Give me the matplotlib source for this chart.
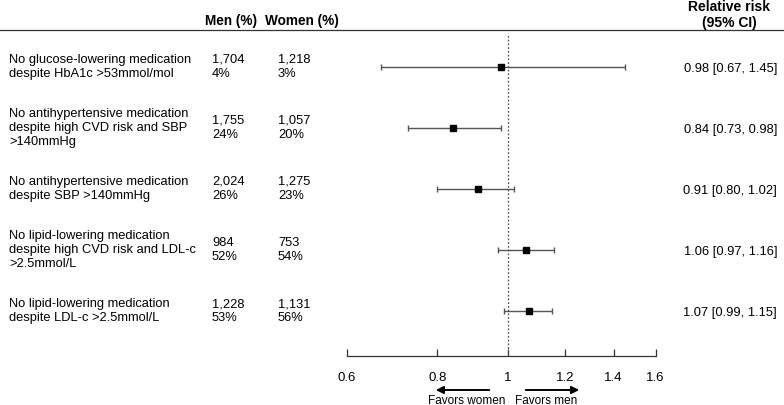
import numpy as np
import matplotlib
matplotlib.use("Agg")
import matplotlib.pyplot as plt

plt.rcParams['font.family'] = ['Liberation Sans', 'DejaVu Sans']

labels = ["No glucose-lowering medication\ndespite HbA1c >53mmol/mol",
          "No antihypertensive medication\ndespite high CVD risk and SBP\n>140mmHg",
          "No antihypertensive medication\ndespite SBP >140mmHg",
          "No lipid-lowering medication\ndespite high CVD risk and LDL-c\n>2.5mmol/L",
          "No lipid-lowering medication\ndespite LDL-c >2.5mmol/L"]
men_n = ["1,704", "1,755", "2,024", "984", "1,228"]
men_pct = ["4%", "24%", "26%", "52%", "53%"]
women_n = ["1,218", "1,057", "1,275", "753", "1,131"]
women_pct = ["3%", "20%", "23%", "54%", "56%"]
rr = np.array([0.98, 0.84, 0.91, 1.06, 1.07])
lo = np.array([0.67, 0.73, 0.80, 0.97, 0.99])
hi = np.array([1.45, 0.98, 1.02, 1.16, 1.15])
ticks = [0.6, 0.8, 1, 1.2, 1.4, 1.6]
tick_labels = ["0.6", "0.8", "1", "1.2", "1.4", "1.6"]

W, H = 784, 406
fig = plt.figure(figsize=(W/100, H/100), dpi=100)
fs = 9.3

def fx(px):
    return px / W

def fy(py):
    return 1 - py / H

# forest panel, placed by pixel edges
left, right, top, bottom = 346.7, 655.7, 35, 357
ax = fig.add_axes([fx(left), fy(bottom), fx(right - left), (bottom - top) / H])
ax.set_xscale('log')
ax.set_xlim(0.6, 1.6)
row0, step = 67.7, 61.1
ax.set_ylim((bottom - row0) / step, (top - row0) / step)

y = np.arange(len(rr))
ax.errorbar(rr, y, xerr=[rr - lo, hi - rr], fmt='none', ecolor='#555555',
            elinewidth=1, capsize=2, capthick=1)
ax.plot(rr, y, 's', color='black', markersize=4.6)
ax.axvline(1, color='#555555', lw=0.9, ls=(0, (1.5, 1.5)))

for s in ['top', 'right', 'left']:
    ax.spines[s].set_visible(False)
ax.spines['bottom'].set_color('#333333')
ax.spines['bottom'].set_linewidth(0.9)
ax.set_yticks([])
ax.set_xticks(ticks)
ax.set_xticklabels(tick_labels)
ax.xaxis.set_minor_locator(matplotlib.ticker.NullLocator())
ax.tick_params(axis='x', direction='in', length=5, width=0.9, color='#333333',
               pad=11, labelsize=9.5)

# header
fig.add_artist(plt.Line2D([0, 1], [fy(31), fy(31)], color='#333333', lw=0.9))
fig.text(fx(205), fy(21), "Men (%)", fontsize=9.8, fontweight='bold', va='center')
fig.text(fx(265), fy(21), "Women (%)", fontsize=9.8, fontweight='bold', va='center')
fig.text(fx(729), fy(15), "Relative risk\n(95% CI)", fontsize=10, fontweight='bold',
         ha='center', va='center', linespacing=1.1)

for i in range(len(rr)):
    py = row0 + step * i
    fig.text(fx(9), fy(py - 1), labels[i], fontsize=fs, va='center', linespacing=1.2)
    fig.text(fx(212), fy(py - 1), men_n[i] + "\n" + men_pct[i], fontsize=fs,
             va='center', linespacing=1.2)
    fig.text(fx(278), fy(py - 1), women_n[i] + "\n" + women_pct[i], fontsize=fs,
             va='center', linespacing=1.2)
    fig.text(fx(777), fy(py + 1), "%.2f [%.2f, %.2f]" % (rr[i], lo[i], hi[i]),
             fontsize=fs, ha='right', va='center')

# direction arrows
fig.add_artist(matplotlib.patches.FancyArrowPatch(
    (fx(492), fy(391)), (fx(433), fy(391)), transform=fig.transFigure,
    arrowstyle='-|>', mutation_scale=11, color='black', lw=1.4))
fig.add_artist(matplotlib.patches.FancyArrowPatch(
    (fx(523), fy(391)), (fx(582), fy(391)), transform=fig.transFigure,
    arrowstyle='-|>', mutation_scale=11, color='black', lw=1.4))
fig.text(fx(467), fy(401), "Favors women", fontsize=8.5, ha='center', va='center')
fig.text(fx(546), fy(401), "Favors men", fontsize=8.5, ha='center', va='center')

fig.savefig("out.png", dpi=100)
